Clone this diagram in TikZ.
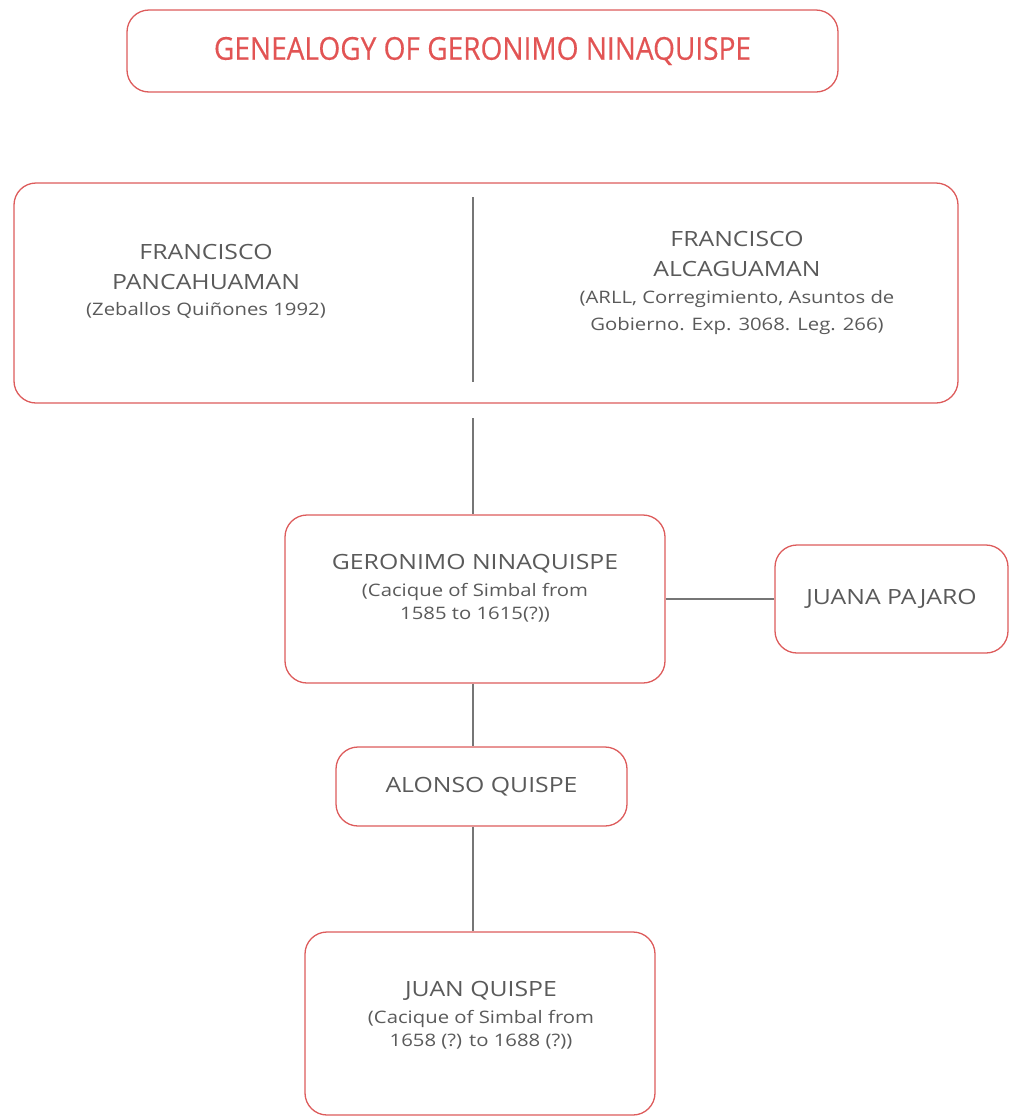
\documentclass[tikz,border=0pt]{standalone}
\usepackage{fontspec}
\setmainfont[FakeStretch=1.18]{Open Sans}
\newfontfamily\titlefont[FakeStretch=0.89,FakeBold=0.3]{Open Sans}
\definecolor{boxred}{RGB}{221,92,92}
\definecolor{titlered}{RGB}{226,84,84}
\definecolor{namegray}{RGB}{90,90,90}
\definecolor{linkgray}{RGB}{118,118,118}
\newcommand\srcsize{\fontsize{17.2}{24.5}\selectfont}

\begin{document}
\begin{tikzpicture}[x=1pt,y=-1pt,
    person/.style={draw=boxred,line width=1.3pt,rounded corners=22pt,fill=white,inner sep=0pt},
    nametext/.style={text=namegray,align=center,font=\fontsize{21}{30}\selectfont},
    link/.style={draw=linkgray,line width=1.2pt}]

    \useasboundingbox (0,0) rectangle (1009,1117);

    \node[person,minimum width=711pt,minimum height=82pt,text=titlered,
          font=\titlefont\fontsize{31.5}{31.5}\selectfont] (title) at (482.5,51) {GENEALOGY OF GERONIMO NINAQUISPE};

    \node[person,minimum width=944pt,minimum height=220pt] (parents) at (486,293) {};
    \node[nametext] (pancahuaman) at (206,281) {FRANCISCO\\PANCAHUAMAN\\[-4pt]{\srcsize(Zeballos Quiñones 1992)}};
    \node[nametext] (alcaguaman) at (737,283) {FRANCISCO\\ALCAGUAMAN\\[-3pt]{\srcsize(ARLL, Corregimiento, Asuntos de}\\[-3pt]{\srcsize Gobierno. Exp. 3068. Leg. 266)}};
    \coordinate (split-top) at (473,197);
    \coordinate (split-bot) at (473,382);
    \coordinate (parents-out) at (473,418);

    \node[person,minimum width=380pt,minimum height=168pt] (geronimo) at (475,599) {};
    \node[nametext] (geronimo-txt) at (475,588) {GERONIMO NINAQUISPE\\[-3pt]{\srcsize(Cacique of Simbal from}\\[-7pt]{\srcsize 1585 to 1615(?))}};
    \node[person,minimum width=233pt,minimum height=108pt,nametext] (juana) at (891.5,599) {JUANA PAJARO};

    \node[person,minimum width=291pt,minimum height=79pt,nametext] (alonso) at (481.5,786.5) {ALONSO QUISPE};

    \node[person,minimum width=350pt,minimum height=183pt] (juan) at (480,1023.5) {};
    \node[nametext] (juan-txt) at (481,1015) {JUAN QUISPE\\[-3pt]{\srcsize(Cacique of Simbal from}\\[-7pt]{\srcsize 1658 (?) to 1688 (?))}};

    \draw[link] (split-top) -- (split-bot);
    \draw[link] (parents-out) -- (parents-out |- geronimo.north);
    \draw[link] (geronimo.east) -- (juana.west);
    \draw[link] (parents-out |- geronimo.south) -- (parents-out |- alonso.north);
    \draw[link] (parents-out |- alonso.south) -- (parents-out |- juan.north);

\end{tikzpicture}
\end{document}
